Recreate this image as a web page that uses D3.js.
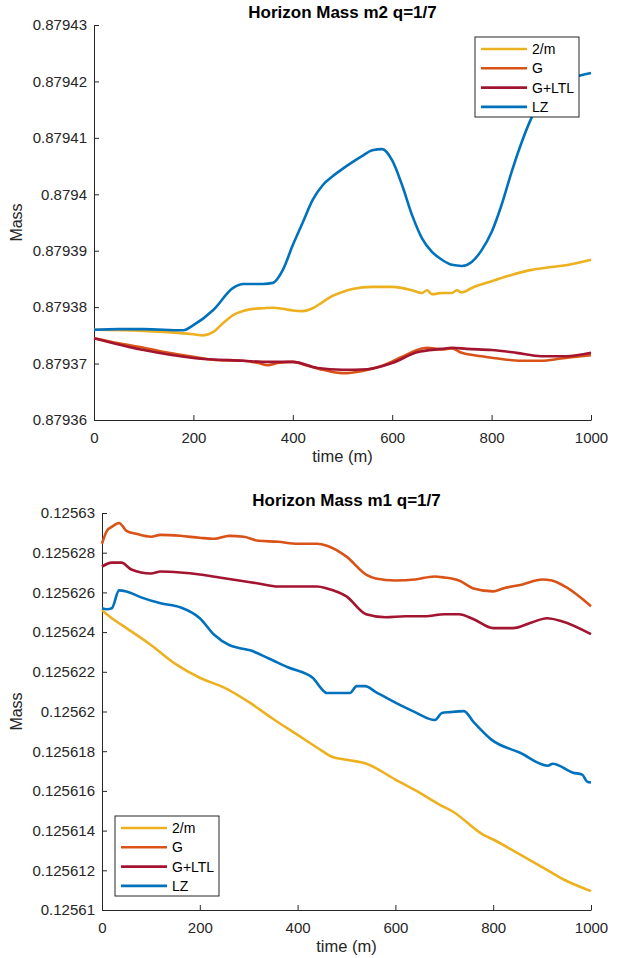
<!DOCTYPE html>
<html>
<head>
<meta charset="utf-8">
<script src="https://cdn.jsdelivr.net/npm/d3@7"></script>
<style>
  body { margin: 0; background: #fff; }
  svg { font-family: "Liberation Sans", Arial, sans-serif; }
</style>
</head>
<body>
<div id="chart"></div>
<script>
// legend / series names and MATLAB default colours
var seriesNames = ["2/m", "G", "G+LTL", "LZ"];
var seriesColors = ["#EDB120", "#D95319", "#A2142F", "#0072BD"];

// ---- top panel: Horizon Mass m2 ----
var m2Ticks = [0.87936, 0.87937, 0.87938, 0.87939, 0.8794, 0.87941, 0.87942, 0.87943];
var m2_2m = [[0,0.879376],[100,0.8793758],[200,0.8793752],[220,0.879375],[240,0.8793756],[260,0.8793772],[280,0.8793786],[300,0.8793793],[320,0.8793797],[340,0.8793798],[360,0.8793799],[380,0.8793797],[400,0.8793794],[420,0.8793793],[440,0.8793798],[460,0.8793809],[480,0.879382],[500,0.8793827],[520,0.8793832],[560,0.8793836],[600,0.8793836],[640,0.879383],[660,0.8793825],[670,0.879383],[680,0.8793823],[700,0.8793825],[720,0.8793825],[730,0.879383],[740,0.8793826],[760,0.8793834],[800,0.8793846],[840,0.8793857],[880,0.8793866],[920,0.8793871],[960,0.8793876],[1000,0.8793884]];
var m2_G = [[0,0.8793745],[50,0.8793736],[100,0.8793728],[150,0.8793719],[200,0.8793712],[250,0.8793706],[300,0.8793705],[330,0.8793701],[350,0.8793697],[370,0.8793701],[400,0.8793703],[430,0.8793696],[460,0.8793689],[500,0.8793683],[540,0.8793687],[580,0.8793696],[620,0.8793712],[650,0.8793724],[670,0.8793728],[700,0.8793725],[720,0.8793727],[740,0.8793719],[780,0.8793713],[820,0.8793708],[860,0.8793705],[900,0.8793705],[940,0.8793709],[1000,0.8793715]];
var m2_GLTL = [[0,0.8793745],[100,0.8793724],[200,0.879371],[300,0.8793705],[350,0.8793703],[400,0.8793703],[450,0.8793692],[500,0.8793689],[550,0.879369],[600,0.8793701],[650,0.879372],[700,0.8793726],[720,0.8793728],[750,0.8793726],[800,0.8793724],[850,0.8793719],[900,0.8793713],[950,0.8793713],[1000,0.8793719]];
var m2_LZ = [[0,0.879376],[50,0.8793761],[100,0.8793761],[180,0.8793759],[200,0.8793768],[240,0.8793795],[280,0.8793834],[300,0.8793841],[340,0.8793841],[360,0.8793843],[380,0.8793866],[400,0.879391],[420,0.879395],[440,0.879399],[460,0.8794016],[480,0.8794032],[500,0.8794045],[520,0.8794057],[540,0.8794068],[560,0.8794078],[580,0.879408],[600,0.879406],[620,0.8794016],[640,0.8793963],[660,0.8793922],[680,0.8793898],[700,0.8793884],[720,0.8793875],[740,0.8793873],[760,0.879388],[780,0.8793901],[800,0.8793933],[820,0.8793981],[840,0.8794039],[860,0.8794091],[880,0.8794135],[900,0.8794167],[920,0.8794188],[940,0.8794199],[960,0.8794206],[980,0.8794211],[1000,0.8794215]];

// ---- bottom panel: Horizon Mass m1 ----
var m1Ticks = [0.12561, 0.125612, 0.125614, 0.125616, 0.125618, 0.12562, 0.125622, 0.125624, 0.125626, 0.125628, 0.12563];
var m1_2m = [[0,0.1256251],[20,0.1256247],[50,0.1256242],[100,0.12562335],[150,0.1256224],[200,0.1256217],[250,0.1256212],[303,0.12562043],[350,0.12561962],[400,0.12561882],[450,0.12561802],[470,0.12561772],[500,0.12561757],[541,0.12561737],[600,0.12561657],[650,0.1256159],[691,0.1256153],[718,0.12561495],[779,0.1256138],[800,0.12561355],[850,0.12561286],[900,0.12561216],[943,0.12561155],[1000,0.12561095]];
var m1_G = [[0,0.12562845],[10,0.1256291],[20,0.1256293],[35,0.1256295],[50,0.1256291],[70,0.12562895],[100,0.1256288],[120,0.1256289],[160,0.12562885],[200,0.12562875],[230,0.1256287],[260,0.12562885],[290,0.1256288],[320,0.1256286],[360,0.12562855],[400,0.12562845],[440,0.12562845],[460,0.12562835],[500,0.1256278],[540,0.1256269],[560,0.1256267],[600,0.1256266],[640,0.12562665],[680,0.1256268],[700,0.12562675],[730,0.1256266],[760,0.1256262],[800,0.12562605],[820,0.1256262],[860,0.1256264],[900,0.12562665],[920,0.1256266],[950,0.12562625],[1000,0.1256253]];
var m1_GLTL = [[0,0.1256273],[20,0.1256275],[40,0.1256275],[60,0.12562715],[100,0.12562695],[120,0.12562705],[160,0.125627],[200,0.1256269],[240,0.12562675],[280,0.1256266],[320,0.12562645],[360,0.1256263],[400,0.1256263],[440,0.1256263],[460,0.1256262],[500,0.1256258],[540,0.1256249],[580,0.12562475],[620,0.1256248],[660,0.1256248],[700,0.1256249],[730,0.1256249],[760,0.12562465],[800,0.1256242],[840,0.1256242],[880,0.1256245],[910,0.1256247],[940,0.12562455],[1000,0.1256239]];
var m1_LZ = [[0,0.1256252],[10,0.12562515],[20,0.1256252],[35,0.1256261],[50,0.12562605],[80,0.12562575],[120,0.12562545],[160,0.12562525],[200,0.1256247],[230,0.12562385],[260,0.12562335],[280,0.1256232],[303,0.12562308],[340,0.12562268],[380,0.12562223],[432,0.12562168],[446,0.12562123],[460,0.12562093],[507,0.12562093],[521,0.12562128],[538,0.12562128],[560,0.12562098],[609,0.12562033],[640,0.12561997],[681,0.12561957],[695,0.12561992],[712,0.12561997],[740,0.12562002],[760,0.12561947],[797,0.12561857],[855,0.12561792],[912,0.12561727],[922,0.12561737],[963,0.12561692],[982,0.12561682],[992,0.12561647],[1000,0.12561642]];

var xTicks = [0, 200, 400, 600, 800, 1000];

var W = 620, H = 958;
var svg = d3.select("#chart").append("svg")
    .attr("width", W)
    .attr("height", H);

var axisColor = "#262626";

function drawPanel(opt) {
    var x = d3.scaleLinear().domain([0, 1000]).range([opt.left, opt.right]);
    var y = d3.scaleLinear().domain(opt.yDomain).range([opt.bottom, opt.top]);

    var g = svg.append("g");

    // x axis, MATLAB style ticks pointing inward
    var xa = g.append("g")
        .attr("transform", "translate(0," + opt.bottom + ")")
        .call(d3.axisBottom(x).tickValues(xTicks).tickSizeInner(-5).tickSizeOuter(0).tickPadding(12)
            .tickFormat(d3.format("d")));
    var ya = g.append("g")
        .attr("transform", "translate(" + opt.left + ",0)")
        .call(d3.axisLeft(y).tickValues(opt.yTicks).tickSizeInner(-5).tickSizeOuter(0).tickPadding(7)
            .tickFormat(function (d) { return String(+d.toPrecision(6)); }));

    [xa, ya].forEach(function (a) {
        a.select(".domain").attr("stroke", axisColor).attr("stroke-width", 1);
        a.selectAll(".tick line").attr("stroke", axisColor);
        a.selectAll(".tick text").attr("fill", axisColor).style("font-size", "15px");
    });

    // lines
    var line = d3.line()
        .x(function (d) { return x(d[0]); })
        .y(function (d) { return y(d[1]); })
        .curve(d3.curveMonotoneX);

    opt.series.forEach(function (s, i) {
        g.append("path")
            .datum(s)
            .attr("fill", "none")
            .attr("stroke", seriesColors[i])
            .attr("stroke-width", 2.6)
            .attr("stroke-linejoin", "round")
            .attr("d", line);
    });

    // title
    g.append("text")
        .attr("x", (opt.left + opt.right) / 2)
        .attr("y", opt.top - 7)
        .attr("text-anchor", "middle")
        .style("font-size", "17px")
        .style("font-weight", "bold")
        .attr("fill", "#000")
        .text(opt.title);

    // axis labels
    g.append("text")
        .attr("x", (opt.left + opt.right) / 2)
        .attr("y", opt.bottom + 42)
        .attr("text-anchor", "middle")
        .style("font-size", "16.5px")
        .attr("fill", axisColor)
        .text("time (m)");

    g.append("text")
        .attr("transform", "translate(22," + (opt.top + opt.bottom) / 2 + ") rotate(-90)")
        .attr("text-anchor", "middle")
        .style("font-size", "16px")
        .attr("fill", axisColor)
        .text("Mass");

    // legend
    var lg = g.append("g").attr("transform", "translate(" + opt.legend[0] + "," + opt.legend[1] + ")");
    lg.append("rect")
        .attr("width", 104)
        .attr("height", 80)
        .attr("fill", "#fff")
        .attr("stroke", axisColor)
        .attr("stroke-width", 1);
    seriesNames.forEach(function (name, i) {
        var yy = 12 + i * 19.3;
        lg.append("line")
            .attr("x1", 6).attr("x2", 52)
            .attr("y1", yy).attr("y2", yy)
            .attr("stroke", seriesColors[i])
            .attr("stroke-width", 2.6);
        lg.append("text")
            .attr("x", 57)
            .attr("y", yy + 5)
            .style("font-size", "14px")
            .attr("fill", "#000")
            .text(name);
    });
}

drawPanel({
    title: "Horizon Mass m2 q=1/7",
    left: 94, right: 591, top: 25, bottom: 420,
    yDomain: [0.87936, 0.87943],
    yTicks: m2Ticks,
    series: [m2_2m, m2_G, m2_GLTL, m2_LZ],
    legend: [475, 37]
});

drawPanel({
    title: "Horizon Mass m1 q=1/7",
    left: 102, right: 591, top: 513, bottom: 910,
    yDomain: [0.12561, 0.12563],
    yTicks: m1Ticks,
    series: [m1_2m, m1_G, m1_GLTL, m1_LZ],
    legend: [115, 816]
});
</script>
</body>
</html>
